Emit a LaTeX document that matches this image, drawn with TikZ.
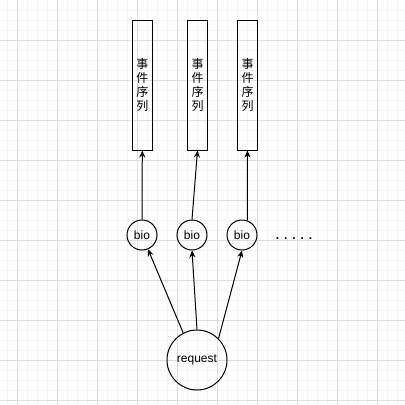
\documentclass[tikz,border=0pt]{standalone}
\usepackage{fontspec}
\setmainfont{Liberation Sans}
\newfontfamily\cjk{Noto Sans CJK SC}
\usetikzlibrary{arrows.meta}

\newcommand{\dotgap}{\hspace{4.9pt}}

\begin{document}
\begin{tikzpicture}[x=1pt,y=-1pt,
        gridminor/.style={line width=1pt,color=black!4},
        gridmajor/.style={line width=1pt,color=black!13},
        queuebox/.style={draw,line width=1pt,minimum width=20pt,minimum height=130pt,inner sep=0pt,
            align=center,font=\cjk\fontsize{12}{13.8}\selectfont},
        bionode/.style={draw,circle,line width=1pt,minimum size=30pt,inner sep=0pt,font=\fontsize{12}{14}\selectfont},
        reqnode/.style={draw,circle,line width=1pt,minimum size=60pt,inner sep=0pt,font=\fontsize{12}{14}\selectfont},
        link/.style={line width=1pt,-{Stealth[length=7pt,width=6pt]}}]
    \useasboundingbox (0,0) rectangle (405,405);
    % background grid
    \fill[white] (0,0) rectangle (405,405);
    \foreach \i in {0,...,39} {
        \draw[gridminor] (\i*10+7,0) -- (\i*10+7,405);
        \draw[gridminor] (0,\i*10+10) -- (405,\i*10+10);
    }
    \foreach \i in {0,...,9} {
        \draw[gridmajor] (\i*40+17,0) -- (\i*40+17,405);
        \draw[gridmajor] (0,\i*40+40) -- (405,\i*40+40);
    }
    % queues
    \node[queuebox] (q1) at (142.3,85) {事\\件\\序\\列};
    \node[queuebox] (q2) at (197.5,85) {事\\件\\序\\列};
    \node[queuebox] (q3) at (247.5,85) {事\\件\\序\\列};
    % bio nodes
    \node[bionode] (b1) at (142,235) {bio};
    \node[bionode] (b2) at (192,235) {bio};
    \node[bionode] (b3) at (242,235) {bio};
    \node[font=\bfseries\fontsize{12}{14}\selectfont] (more) at (294,239) {.\dotgap.\dotgap.\dotgap.\dotgap.};
    \node[reqnode] (req) at (197,360) {request};
    % links
    \draw[link] (b1.north) -- (q1.south);
    \draw[link] (b2.north) -- (q2.south);
    \draw[link] (b3.70) -- (q3.south);
    \draw[link] (req.117) -- (b1);
    \draw[link] (req.north) -- (b2.south);
    \draw[link] (req.45) -- (b3.south);
\end{tikzpicture}
\end{document}
